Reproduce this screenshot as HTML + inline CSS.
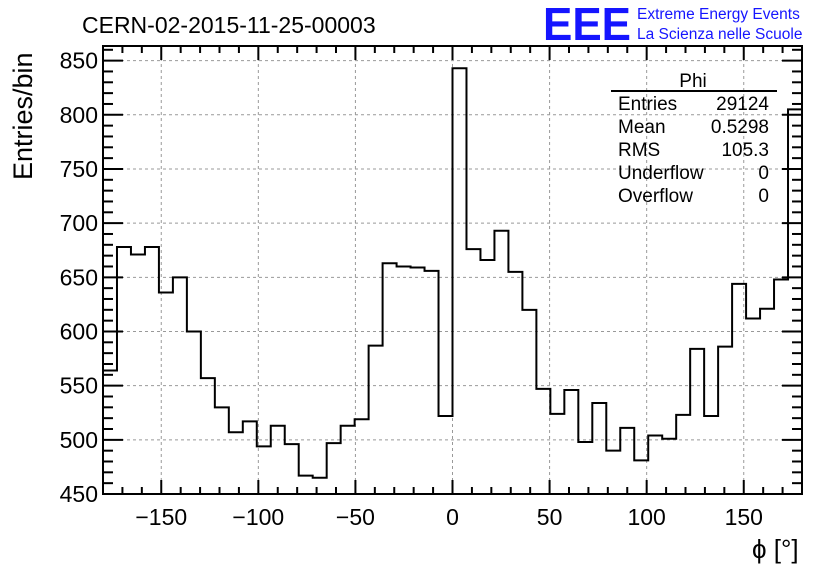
<!DOCTYPE html>
<html><head><meta charset="utf-8"><style>
body{margin:0;background:#fff;}
svg text{font-family:"Liberation Sans",sans-serif;}
</style></head><body>
<svg id="c" width="836" height="572" xmlns="http://www.w3.org/2000/svg">
<text x="82" y="33" font-size="23">CERN-02-2015-11-25-00003</text>
<text x="543" y="40" font-size="46" fill="#1515ff" font-weight="bold" textLength="88" lengthAdjust="spacingAndGlyphs">EEE</text>
<text x="637" y="19" font-size="15.5" fill="#1515ff">Extreme Energy Events</text>
<text x="637" y="39" font-size="15.5" fill="#1515ff">La Scienza nelle Scuole</text>
<text transform="translate(32,180) rotate(-90)" font-size="27">Entries/bin</text>
<text x="752" y="558" font-size="26">ϕ [°]</text>
<g id="grid"></g><g id="ticks"></g><g id="hist"></g>
<rect x="103" y="46" width="699" height="448" fill="none" stroke="#000" stroke-width="2"/>
<g font-size="19">
<text x="693" y="87" text-anchor="middle">Phi</text>
<line x1="611" y1="91" x2="777" y2="91" stroke="#000" stroke-width="2"/>
<text x="618" y="110">Entries</text><text x="769" y="110" text-anchor="end">29124</text>
<text x="618" y="133">Mean</text><text x="769" y="133" text-anchor="end">0.5298</text>
<text x="618" y="156">RMS</text><text x="769" y="156" text-anchor="end">105.3</text>
<text x="618" y="179">Underflow</text><text x="769" y="179" text-anchor="end">0</text>
<text x="618" y="202">Overflow</text><text x="769" y="202" text-anchor="end">0</text>
</g>
</svg>
<script>
const counts=[564,678,671,678,636,650,600,557,530,507,517,494,513,496,467,465,497,513,519,587,663,660,659,656,522,843,676,666,693,655,620,547,524,546,498,534,490,511,481,504,501,523,584,522,586,644,612,621,648,805];
const xTicks=[-150,-100,-50,0,50,100,150];
const yTicks=[450,500,550,600,650,700,750,800,850];
const xMin=-180,xMax=180,yMin=450,yMax=863.5;
const L=103,R=802,T=46,B=494;
const NS='http://www.w3.org/2000/svg';
function sx(v){return L+(v-xMin)/(xMax-xMin)*(R-L);}
function sy(v){return B-(v-yMin)/(yMax-yMin)*(B-T);}
function mk(tag,attrs,parent){const e=document.createElementNS(NS,tag);for(const k in attrs)e.setAttribute(k,attrs[k]);parent.appendChild(e);return e;}
const grid=document.getElementById('grid'),ticks=document.getElementById('ticks'),hist=document.getElementById('hist');
xTicks.forEach(v=>{
 const g=mk('line',{x1:sx(v),x2:sx(v),y1:T,y2:B,stroke:'#999','stroke-dasharray':'3,3','stroke-width':1},grid);
 
 
 const t=mk('text',{x:sx(v),y:525,'font-size':23,'text-anchor':'middle'},ticks);
 t.textContent=v<0?'\u2212'+Math.abs(v):String(v);
 
 
});
yTicks.forEach(v=>{
 if(v>yMin){const g=mk('line',{x1:L,x2:R,y1:sy(v),y2:sy(v),stroke:'#999','stroke-dasharray':'3,3','stroke-width':1},grid);
 
 }
 const t=mk('text',{x:98,y:sy(v)+8,'font-size':23,'text-anchor':'end'},ticks);
 t.textContent=String(v);
 
 
});
for(let v=-180;v<=180;v+=10){const maj=v%50===0;const len=maj?14:7;
 mk('line',{x1:sx(v),x2:sx(v),y1:B,y2:B-len,stroke:'#000','stroke-width':2},ticks);
 mk('line',{x1:sx(v),x2:sx(v),y1:T,y2:T+len,stroke:'#000','stroke-width':2},ticks);}
for(let v=450;v<=860;v+=10){const maj=v%50===0;const len=maj?20:10;
 mk('line',{x1:L,x2:L+len,y1:sy(v),y2:sy(v),stroke:'#000','stroke-width':2},ticks);
 mk('line',{x1:R,x2:R-len,y1:sy(v),y2:sy(v),stroke:'#000','stroke-width':2},ticks);}
const w=(xMax-xMin)/counts.length;
let d='M'+sx(xMin)+','+sy(yMin);
counts.forEach((c,i)=>{d+=' L'+sx(xMin+i*w)+','+sy(c)+' L'+sx(xMin+(i+1)*w)+','+sy(c);});
d+=' L'+sx(xMax)+','+sy(yMin);
const p=mk('path',{d:d,fill:'none',stroke:'#000','stroke-width':2},hist);


</script>
</body></html>
